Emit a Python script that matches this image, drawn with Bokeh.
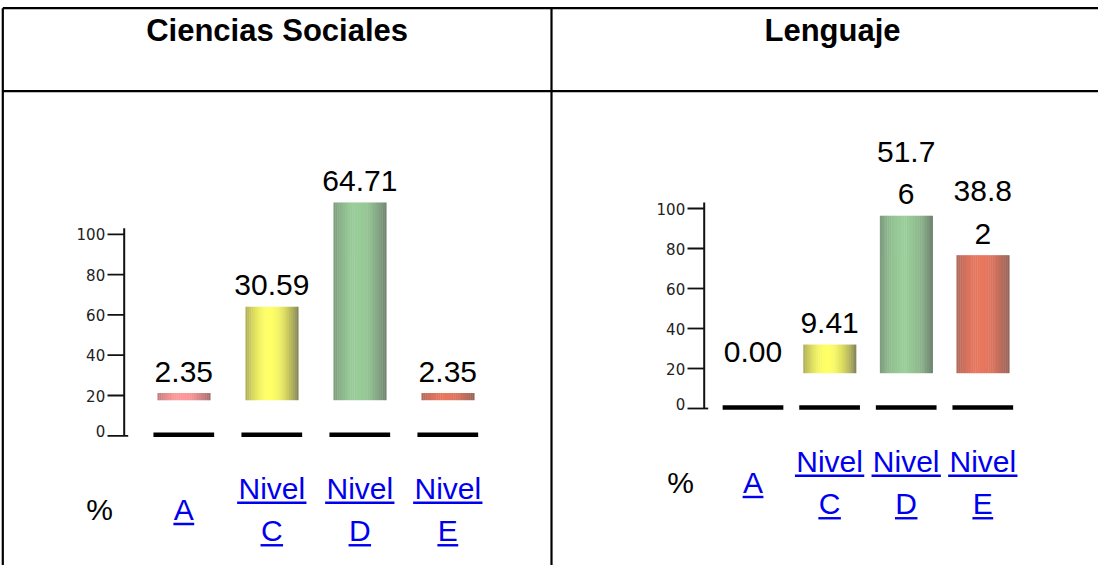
import math
from bokeh.plotting import figure
from bokeh.models import Range1d
from bokeh.embed import file_html
from bokeh.resources import INLINE
from bokeh.core.properties import value

# ---------------- data ----------------
subjects = ["Ciencias Sociales", "Lenguaje"]
categories = ["A", "Nivel C", "Nivel D", "Nivel E"]
sociales = [2.35, 30.59, 64.71, 2.35]
lenguaje = [0.00, 9.41, 51.76, 38.82]
axis_ticks = [0, 20, 40, 60, 80, 100]
unit_label = "%"

# ---------------- styles ----------------
bar_center_colors = ["#ff9a9a", "#ffff66", "#99cc99", "#e8775f"]
bar_edge_colors = ["#9a6c6c", "#7c7c55", "#6d7e6d", "#8e6258"]
LINK = "#0000ee"
FONT = "Liberation Sans"
FS = 30  # px
BASE_FIX = -10.0  # Bokeh places 'alphabetic' text lower than the real baseline

W, H = 1098, 565
M = 8  # page margin -> main coordinates equal reference screen pixels

ARIAL = {
    "0": 556, "1": 556, "2": 556, "3": 556, "4": 556, "5": 556, "6": 556,
    "7": 556, "8": 556, "9": 556, ".": 278, " ": 278, "N": 722, "i": 222,
    "v": 500, "e": 556, "l": 222, "A": 667, "C": 722, "D": 722, "E": 667,
    "%": 889,
}


def text_w(s, fs=FS):
    return sum(ARIAL.get(c, 556) for c in s) * fs / 1000.0


def wrap(s, maxw):
    lines, cur = [], ""
    for word in s.split(" "):
        cand = word if not cur else cur + " " + word
        if text_w(cand) <= maxw:
            cur = cand
            continue
        if cur:
            lines.append(cur)
            cur = ""
        piece = ""
        for ch in word:
            if text_w(piece + ch) <= maxw or not piece:
                piece += ch
            else:
                lines.append(piece)
                piece = ch
        cur = piece
    if cur:
        lines.append(cur)
    return lines


def x_range_for(s0, k):
    return Range1d((M - s0) / k, (M + W - s0) / k)


def y_range_for(s0, k):
    return Range1d((s0 - (M + H)) / k, (s0 - M) / k)


p = figure(width=W, height=H, output_backend="svg", toolbar_location=None,
           x_range=Range1d(M, M + W), y_range=Range1d(M + H, M),
           x_axis_location=None, y_axis_location=None, min_border=0,
           outline_line_color=None, background_fill_color="white",
           border_fill_color="white")
p.grid.visible = False

# ---------------- table frame ----------------
p.segment(x0=[10.3, 10.3, 10.3, 559], y0=[15.7, 98.7, 15.7, 15.7],
          x1=[1114, 1114, 10.3, 559], y1=[15.7, 98.7, 581, 581],
          line_color="black", line_width=2.2)

header_x = [284.6, 840]
p.text(x=header_x, y=[48, 48], text=subjects, y_offset=BASE_FIX,
       text_align="center", text_baseline="alphabetic", text_font=value(FONT),
       text_font_style="bold", text_font_size=value("31px"), text_color="black")

layouts = [
    dict(x0=191.3, dx=88.0, axis_x=131.7, ax0=443.3, axk=2.015, bar0=407.7,
         bark=3.055, mid=527.0, pct_x=107.0, maxw=86.0),
    dict(x0=760.5, dx=76.6, axis_x=711.7, ax0=416.0, axk=2.0, bar0=380.7,
         bark=3.04, mid=500.0, pct_x=688.0, maxw=72.0),
]
series = [sociales, lenguaje]


def hex2rgb(h):
    h = h.lstrip("#")
    return [int(h[i:i + 2], 16) for i in (0, 2, 4)]


def mix(a, b, t):
    ca, cb = hex2rgb(a), hex2rgb(b)
    return "#%02x%02x%02x" % tuple(int(round(ca[i] + (cb[i] - ca[i]) * t)) for i in range(3))


LINE_H = 42.5
NSLICE = 28
BAR_W = 52.7
GROUND_W = 60.7

for ci, (lay, vals) in enumerate(zip(layouts, series)):
    xn, an, bn = f"x{ci}", f"ax{ci}", f"bar{ci}"
    p.extra_x_ranges[xn] = x_range_for(lay["x0"], lay["dx"])
    p.extra_y_ranges[an] = y_range_for(lay["ax0"], lay["axk"])
    p.extra_y_ranges[bn] = y_range_for(lay["bar0"], lay["bark"])
    idx = list(range(len(categories)))

    # fake axis
    ax = lay["axis_x"]
    p.segment(x0=[ax], y0=[0], x1=[ax], y1=[103], y_range_name=an,
              line_color="#111111", line_width=2)
    p.segment(x0=[ax - 16.7] * len(axis_ticks), y0=axis_ticks,
              x1=[ax + (4 if t == 0 else 0) for t in axis_ticks], y1=axis_ticks,
              y_range_name=an, line_color="#111111", line_width=1.8)
    p.text(x=[ax - 19] * len(axis_ticks), y=axis_ticks,
           text=[str(t) for t in axis_ticks],
           y_offset=[(-5 if t == 0 else 0) for t in axis_ticks],
           y_range_name=an, text_align="right", text_baseline="middle",
           text_font=value("DejaVu Sans"), text_font_size=value("15px"),
           text_color="#222222")

    # ground lines
    p.rect(x=idx, y=[0.5] * len(idx), width=GROUND_W, height=4.5,
           width_units="screen", height_units="screen",
           x_range_name=xn, y_range_name=an, fill_color="black", line_color=None)

    # gradient bars
    wdata = BAR_W / lay["dx"]
    L, R, T, C = [], [], [], []
    for i, v in enumerate(vals):
        for k in range(NSLICE):
            t = (k + 0.5) / NSLICE
            g = math.cos(min(1.0, abs(t - 0.45) / 0.55) * math.pi / 2) ** 0.8
            left = i - wdata / 2 + k * wdata / NSLICE
            L.append(left)
            R.append(left + wdata / NSLICE + 0.4 / lay["dx"])
            T.append(v)
            C.append(mix(bar_edge_colors[i], bar_center_colors[i], g))
    p.quad(left=L, right=R, bottom=[0] * len(L), top=T, fill_color=C,
           line_color=None, x_range_name=xn, y_range_name=bn)

    # value labels
    lx, ly, lt, lo = [], [], [], []
    for i, v in enumerate(vals):
        lines = wrap(f"{v:.2f}", lay["maxw"])
        n = len(lines)
        for k, s in enumerate(lines):
            lx.append(i)
            ly.append(v)
            lt.append(s)
            lo.append(-11.5 - LINE_H * (n - 1 - k) + BASE_FIX)
    p.text(x=lx, y=ly, text=lt, y_offset=lo, x_range_name=xn, y_range_name=bn,
           text_align="center", text_baseline="alphabetic",
           text_font=value(FONT), text_font_size=value("30px"), text_color="black")

    # category links
    cx, cy, ct, uw = [], [], [], []
    for i, cat in enumerate(categories):
        lines = wrap(cat, lay["maxw"])
        n = len(lines)
        for k, s in enumerate(lines):
            cx.append(i)
            cy.append(lay["mid"] + (k - (n - 1) / 2) * LINE_H)
            ct.append(s)
            uw.append(text_w(s) * 1.04)
    p.text(x=cx, y=cy, text=ct, y_offset=BASE_FIX, x_range_name=xn,
           text_align="center", text_baseline="alphabetic", text_font=value(FONT),
           text_font_size=value("30px"), text_color=LINK)
    p.rect(x=cx, y=[y + 4.5 for y in cy], width=uw, height=2.4,
           width_units="screen", height_units="screen", x_range_name=xn,
           fill_color=LINK, line_color=None)

    p.text(x=[lay["pct_x"]], y=[lay["mid"]], text=[unit_label], y_offset=BASE_FIX,
           text_align="center", text_baseline="alphabetic", text_font=value(FONT),
           text_font_size=value("30px"), text_color="black")

open("out.html", "w").write(file_html(p, INLINE))
